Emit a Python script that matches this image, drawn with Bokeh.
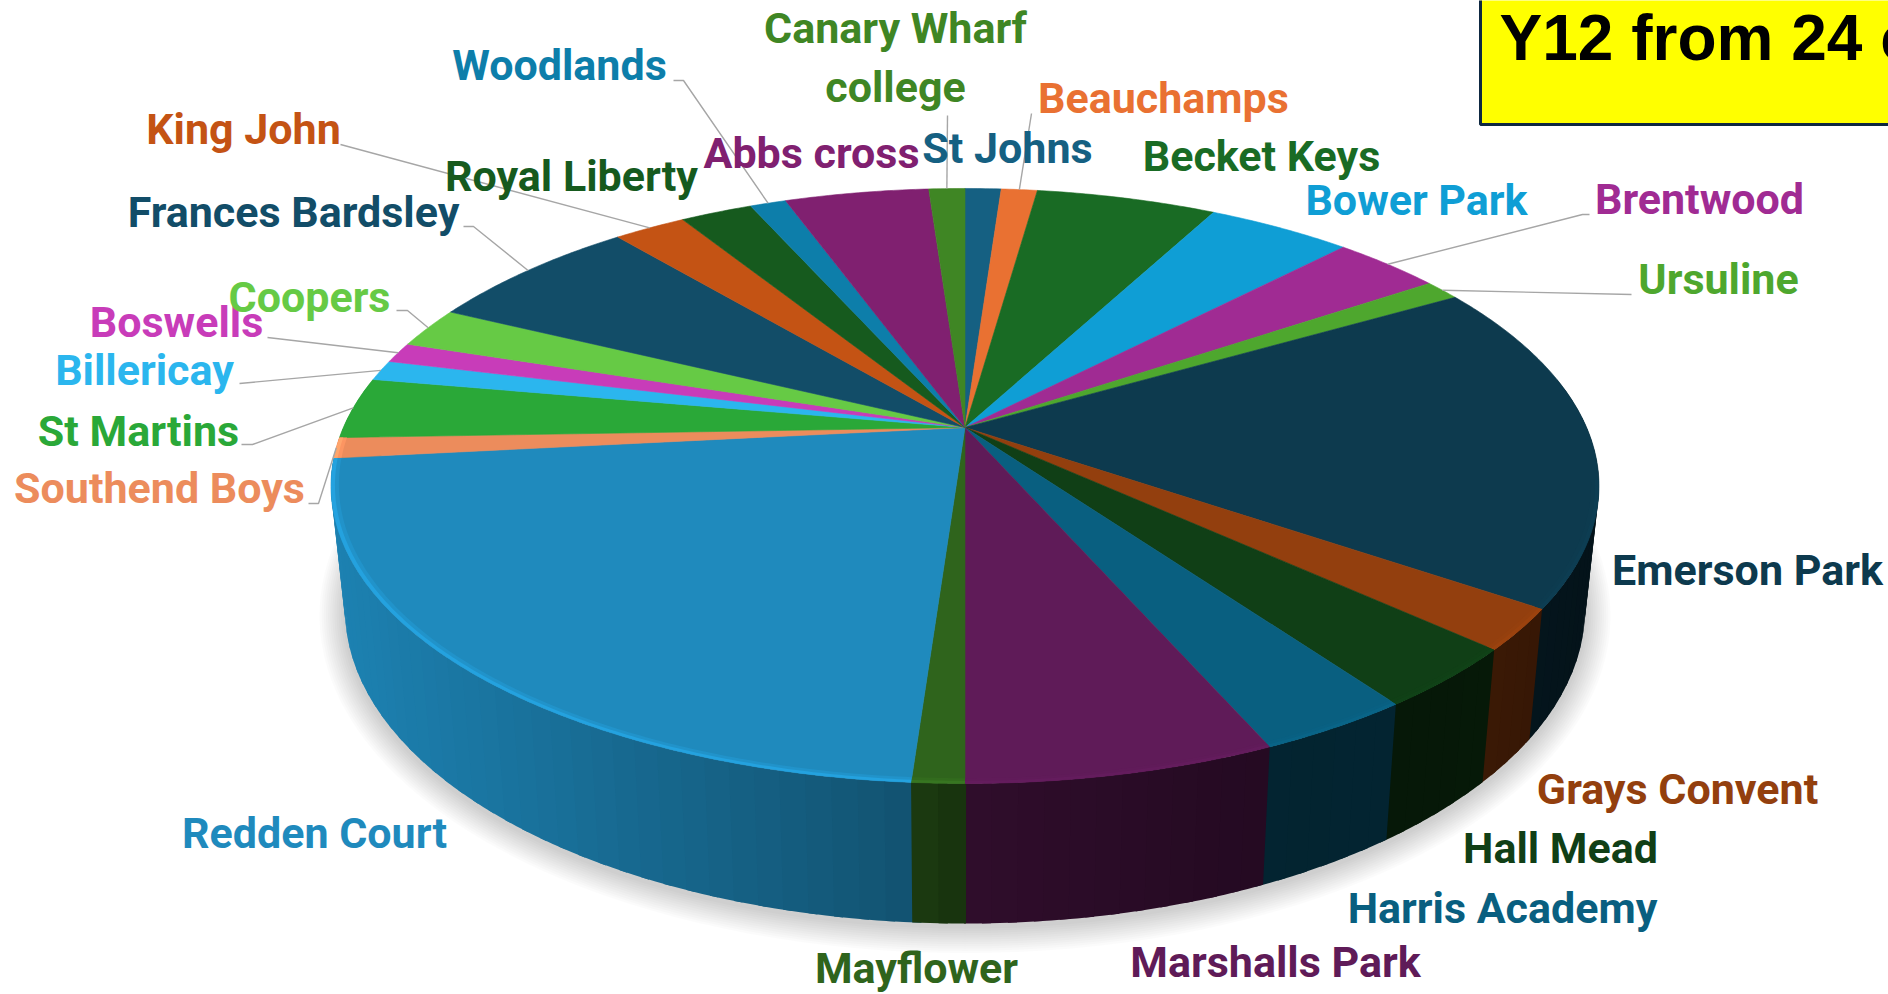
import numpy as np
from bokeh.plotting import figure
from bokeh.models import Range1d
from bokeh.embed import file_html
from bokeh.resources import INLINE
from bokeh.core.properties import value

# ---- data: clockwise from twelve o'clock ----
colleges = ["St Johns", "Beauchamps", "Becket Keys", "Bower Park", "Brentwood", "Ursuline",
            "Emerson Park", "Grays Convent", "Hall Mead", "Harris Academy", "Marshalls Park",
            "Mayflower", "Redden Court", "Southend Boys", "St Martins", "Billericay", "Boswells",
            "Coopers", "Frances Bardsley", "King John", "Royal Liberty", "Woodlands", "Abbs cross",
            "Canary Wharf college"]
students = [1, 1, 5, 4, 3, 1, 16, 2, 3, 3, 6, 1, 20, 1, 3, 1, 1, 2, 6, 2, 2, 1, 4, 1]
colours = ["#156082", "#E97132", "#196B24", "#0F9ED5", "#A02B93", "#4EA72E",
           "#0D3A4E", "#933F0E", "#103F16", "#095F80", "#5F1B58",
           "#2F641C", "#1F8ABD", "#EC8C5C", "#2AA838", "#2BB6EE", "#C83CB9",
           "#66CA45", "#124D68", "#C45314", "#165A1E", "#0D7EAA", "#802070",
           "#3F8624"]
title_text = "Y12 from 24 c"

# ---- layout ----
label_text = ["St Johns", "Beauchamps", "Becket Keys", "Bower Park", "Brentwood", "Ursuline",
              "Emerson Park", "Grays Convent", "Hall Mead", "Harris Academy", "Marshalls Park",
              "Mayflower", "Redden Court", "Southend Boys", "St Martins", "Billericay", "Boswells",
              "Coopers", "Frances Bardsley", "King John", "Royal Liberty", "Woodlands", "Abbs cross",
              "Canary Wharf", "college"]
label_colour_idx = list(range(24)) + [23]
label_x = [1007, 1163, 1261, 1416, 1699, 1718, 1747, 1677, 1560, 1502, 1275, 916, 314, 159, 138, 144, 176,
           309, 293, 243, 571, 559, 811, 895, 895]
label_y = [147, 97, 155, 199, 198, 278, 569, 788, 847, 907, 961, 967, 832, 487, 430, 369, 321,
           296, 211, 128, 175, 64, 152, 27, 86]
leader_idx = [1, 4, 5, 13, 14, 15, 16, 17, 18, 19, 21, 23]
leader_x = [[1031], [1589, 1582], [1631], [308, 318], [241, 252], [239], [267], [396, 407], [463, 473], [340], [673, 683], [947]]
leader_y = [[113], [214, 214], [294], [503, 503], [444, 444], [383], [337], [310, 310], [226, 226], [144], [80, 80], [115]]

CX, CY, A, S, R = 964.5, 427.0, 0.1966, 286.0, 621.6
SCALE_X, DEPTH, DEPTH_SLOPE = 0.978, 140.0, 0.057
WARP = 0.4  # slight perspective skew of the lower right quadrant, in degrees


def top(theta, r=1.0):
    theta = np.asarray(theta, dtype=float)
    theta = theta + np.where((theta > 90) & (theta < 180), WARP * np.sin(np.radians(2 * (theta - 90))), 0.0)
    t = np.radians(theta)
    u, v = r * np.sin(t), -r * np.cos(t)
    w = 1 / (1 - A * v)
    return CX + R * u * w, CY + S * v * w


def base(theta):
    x, y = top(theta)
    return CX + (x - CX) * SCALE_X, y + DEPTH + DEPTH_SLOPE * (y - 782)


def shade(hex_col, f):
    rgb = [int(hex_col[i:i + 2], 16) for i in (1, 3, 5)]
    return "#%02x%02x%02x" % tuple(int(min(255, c * f)) for c in rgb)


deg = np.array(students) * 360.0 / sum(students)
ends = np.cumsum(deg)
starts = ends - deg
mids = (starts + ends) / 2

p = figure(width=1888, height=994, x_range=Range1d(0, 1888), y_range=Range1d(994, 0),
           output_backend="svg", toolbar_location=None, min_border=0, outline_line_color=None)
p.axis.visible = False
p.grid.visible = False
p.background_fill_color = "white"
p.border_fill_color = "white"

# soft shadow under the pie
th = np.linspace(0, 360, 181)
bx, by = base(th)
for k in range(12, 0, -1):
    g = k * 2.2
    sx = CX + (bx - CX) * (1 + g / 640)
    sy = by + (by - 560) * g / 360 + 3
    p.patch(sx, sy, fill_color="#000000", fill_alpha=0.014, line_color=None)

# side wall, strip by strip, drawn from the flanks towards the front;
# each strip runs on under the next one so no seam shows
strips = []
stops_x = [331, 500, 700, 912, 965, 1200, 1300, 1500, 1600]
stops_f = [0.94, 0.84, 0.72, 0.60, 0.50, 0.41, 0.38, 0.40, 0.33]
for s, e, col in zip(starts, ends, colours):
    a, b = max(s, 80), min(e, 280)
    if a >= b:
        continue
    n = max(1, int(np.ceil((b - a) / 2.0)))
    grid = np.linspace(a, b, n + 1)
    for t0, t1 in zip(grid[:-1], grid[1:]):
        if t1 <= 180:
            t2, t3 = t0, min(t1 + 0.7, 180.08)
        else:
            t2, t3 = max(t0 - 0.7, 179.92), t1
        tt = np.linspace(t2, t3, 3)
        x0, y0 = top(tt)
        x1, y1 = base(tt)
        mid_x = float(top((t0 + t1) / 2)[0])
        strips.append((abs((t0 + t1) / 2 - 180),
                       list(x0) + list(x1[::-1]),
                       list(y0) + list(y1[::-1]),
                       shade(col, float(np.interp(mid_x, stops_x, stops_f)))))
strips.sort(key=lambda r: -r[0])
p.patches([r[1] for r in strips], [r[2] for r in strips], fill_color=[r[3] for r in strips], line_color=None)

# top face
xs, ys = [], []
for s, e in zip(starts, ends):
    tt = np.linspace(s, e, int(e - s) * 2 + 2)
    x, y = top(tt)
    xs.append([CX] + list(x))
    ys.append([CY] + list(y))
p.patches(xs, ys, fill_color=colours, line_color=colours, line_width=0.6)

# bevel highlight on the front rim, two bands for a soft inner edge
for inner, hi_left, hi_right in [(0.988, 1.07, 1.02), (0.994, 1.18, 1.06)]:
    xs, ys, cs = [], [], []
    for s, e, col in zip(starts, ends, colours):
        a, b = max(s, 100), min(e, 268)
        if a >= b:
            continue
        tt = np.linspace(a, b, int(b - a) * 2 + 2)
        x0, y0 = top(tt, 1.0)
        x1, y1 = top(tt, inner)
        xs.append(list(x0) + list(x1[::-1]))
        ys.append(list(y0) + list(y1[::-1]))
        cs.append(shade(col, hi_left if s >= 180 else hi_right))
    p.patches(xs, ys, fill_color=cs, line_color=None)

# leader lines
for i, lx, ly in zip(leader_idx, leader_x, leader_y):
    ax, ay = top(mids[i])
    p.line(lx + [float(ax)], ly + [float(ay)], line_color="#A6A6A6", line_width=1.4)

# labels
p.text(label_x, label_y, text=label_text,
       text_color=[colours[i] for i in label_colour_idx],
       text_font=value("Roboto"), text_font_style="bold", text_font_size="43px",
       text_align="center", text_baseline="middle")

# title box, running off the right edge
p.quad(left=[1480], right=[1900], top=[-5], bottom=[124], fill_color="#FFFF00",
       line_color="#0E2841", line_width=3)
p.text([1499], [37], text=[title_text], text_color="#000000", text_font=value("Liberation Sans"),
       text_font_style="bold", text_font_size="64px", text_align="left", text_baseline="middle")

open("out.html", "w").write(file_html(p, INLINE))
